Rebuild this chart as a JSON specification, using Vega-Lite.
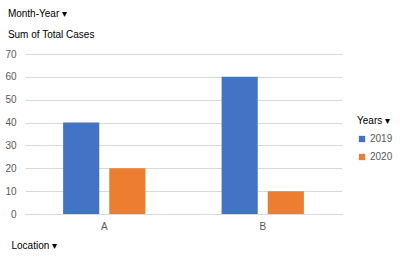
{
  "$schema": "https://vega.github.io/schema/vega-lite/v6.json",
  "width": 317,
  "height": 160,
  "autosize": {"type": "none"},
  "padding": {"left": 25, "top": 54, "right": 58, "bottom": 46},
  "background": "white",
  "config": {"view": {"stroke": null}, "font": "Liberation Sans"},
  "title": {
    "text": "Month-Year ▾",
    "subtitle": "Sum of Total Cases",
    "anchor": "start",
    "frame": "bounds",
    "dx": 3,
    "fontSize": 10,
    "fontWeight": "normal",
    "color": "#000000",
    "subtitleFontSize": 10,
    "subtitleColor": "#000000",
    "offset": 9,
    "subtitlePadding": 11
  },
  "data": {
    "values": [
      {"Location": "A", "Years": "2019", "Cases": 40},
      {"Location": "A", "Years": "2020", "Cases": 20},
      {"Location": "B", "Years": "2019", "Cases": 60},
      {"Location": "B", "Years": "2020", "Cases": 10}
    ]
  },
  "mark": {"type": "bar"},
  "encoding": {
    "x": {
      "field": "Location",
      "type": "nominal",
      "scale": {"paddingInner": 0, "paddingOuter": 0},
      "axis": {
        "title": "Location ▾",
        "titleAnchor": "start",
        "titleAlign": "left",
        "titleX": -14,
        "titleY": 31,
        "titleBaseline": "middle",
        "titleFontSize": 10,
        "titleFontWeight": "normal",
        "titleColor": "#000000",
        "labelAngle": 0,
        "labelFontSize": 10,
        "labelColor": "#595959",
        "labelPadding": 7,
        "ticks": false,
        "domainColor": "#d9d9d9"
      }
    },
    "xOffset": {
      "field": "Years",
      "type": "nominal",
      "scale": {"paddingInner": 0.217, "paddingOuter": 0.826}
    },
    "y": {
      "field": "Cases",
      "type": "quantitative",
      "scale": {"domain": [0, 70], "nice": false},
      "axis": {
        "title": null,
        "values": [0, 10, 20, 30, 40, 50, 60, 70],
        "domain": false,
        "ticks": false,
        "labelPadding": 9,
        "labelFontSize": 10,
        "labelColor": "#595959",
        "gridColor": "#d9d9d9"
      }
    },
    "color": {
      "field": "Years",
      "type": "nominal",
      "scale": {"domain": ["2019", "2020"], "range": ["#4472C4", "#ED7D31"]},
      "legend": {
        "title": "Years ▾",
        "orient": "none",
        "legendX": 332,
        "legendY": 62,
        "titleFontSize": 10,
        "titleFontWeight": "normal",
        "titleColor": "#000000",
        "titlePadding": 8,
        "symbolType": "square",
        "symbolSize": 40,
        "symbolStrokeWidth": 0,
        "labelFontSize": 10,
        "labelColor": "#595959",
        "labelOffset": 3,
        "rowPadding": 8
      }
    }
  }
}
